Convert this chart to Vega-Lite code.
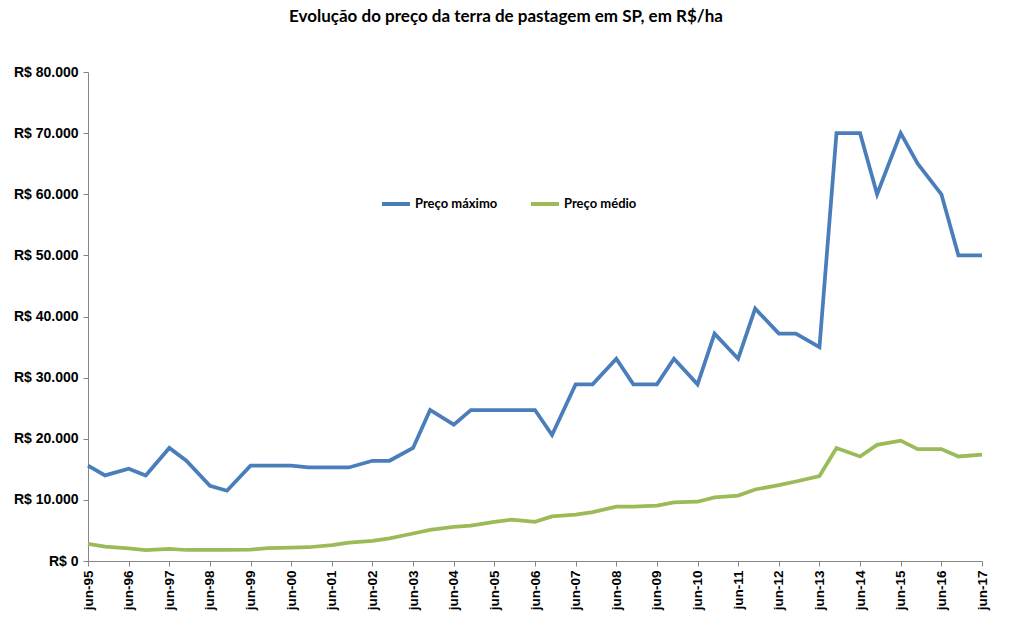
{
  "$schema": "https://vega.github.io/schema/vega-lite/v6.json",
  "width": 894,
  "height": 489,
  "autosize": {"type": "none"},
  "padding": {"left": 88, "top": 72, "right": 31, "bottom": 71},
  "background": "white",
  "title": {
    "text": "Evolução do preço da terra de pastagem em SP, em R$/ha",
    "font": "Lato",
    "fontSize": 17,
    "fontWeight": "bold",
    "color": "#000000",
    "anchor": "middle",
    "dx": -29,
    "offset": 39
  },
  "data": {
    "values": [
      {"d": "1995-06-01", "Preço máximo": 15600, "Preço médio": 2800},
      {"d": "1995-11-01", "Preço máximo": 14000, "Preço médio": 2350},
      {"d": "1996-06-01", "Preço máximo": 15100, "Preço médio": 2050},
      {"d": "1996-11-01", "Preço máximo": 14000, "Preço médio": 1800},
      {"d": "1997-06-01", "Preço máximo": 18500, "Preço médio": 2000},
      {"d": "1997-11-01", "Preço máximo": 16400, "Preço médio": 1800},
      {"d": "1998-06-01", "Preço máximo": 12300, "Preço médio": 1800},
      {"d": "1998-11-01", "Preço máximo": 11500, "Preço médio": 1800},
      {"d": "1999-06-01", "Preço máximo": 15600, "Preço médio": 1850},
      {"d": "1999-11-01", "Preço máximo": 15600, "Preço médio": 2100},
      {"d": "2000-06-01", "Preço máximo": 15600, "Preço médio": 2200},
      {"d": "2000-11-01", "Preço máximo": 15300, "Preço médio": 2250},
      {"d": "2001-06-01", "Preço máximo": 15300, "Preço médio": 2600},
      {"d": "2001-11-01", "Preço máximo": 15300, "Preço médio": 3000},
      {"d": "2002-06-01", "Preço máximo": 16400, "Preço médio": 3300},
      {"d": "2002-11-01", "Preço máximo": 16400, "Preço médio": 3700},
      {"d": "2003-06-01", "Preço máximo": 18500, "Preço médio": 4500},
      {"d": "2003-11-01", "Preço máximo": 24700, "Preço médio": 5100},
      {"d": "2004-06-01", "Preço máximo": 22300, "Preço médio": 5600},
      {"d": "2004-11-01", "Preço máximo": 24700, "Preço médio": 5800},
      {"d": "2005-06-01", "Preço máximo": 24700, "Preço médio": 6400},
      {"d": "2005-11-01", "Preço máximo": 24700, "Preço médio": 6750},
      {"d": "2006-06-01", "Preço máximo": 24700, "Preço médio": 6400},
      {"d": "2006-11-01", "Preço máximo": 20600, "Preço médio": 7300},
      {"d": "2007-06-01", "Preço máximo": 28900, "Preço médio": 7600},
      {"d": "2007-11-01", "Preço máximo": 28900, "Preço médio": 8000},
      {"d": "2008-06-01", "Preço máximo": 33100, "Preço médio": 8900},
      {"d": "2008-11-01", "Preço máximo": 28900, "Preço médio": 8900},
      {"d": "2009-06-01", "Preço máximo": 28900, "Preço médio": 9050},
      {"d": "2009-11-01", "Preço máximo": 33100, "Preço médio": 9600},
      {"d": "2010-06-01", "Preço máximo": 28900, "Preço médio": 9700},
      {"d": "2010-11-01", "Preço máximo": 37200, "Preço médio": 10400},
      {"d": "2011-06-01", "Preço máximo": 33100, "Preço médio": 10700},
      {"d": "2011-11-01", "Preço máximo": 41300, "Preço médio": 11700},
      {"d": "2012-06-01", "Preço máximo": 37200, "Preço médio": 12400},
      {"d": "2012-11-01", "Preço máximo": 37200, "Preço médio": 13000},
      {"d": "2013-06-01", "Preço máximo": 35000, "Preço médio": 13900},
      {"d": "2013-11-01", "Preço máximo": 70000, "Preço médio": 18500},
      {"d": "2014-06-01", "Preço máximo": 70000, "Preço médio": 17100},
      {"d": "2014-11-01", "Preço máximo": 60000, "Preço médio": 19000},
      {"d": "2015-06-01", "Preço máximo": 70000, "Preço médio": 19700},
      {"d": "2015-11-01", "Preço máximo": 65000, "Preço médio": 18300},
      {"d": "2016-06-01", "Preço máximo": 60000, "Preço médio": 18300},
      {"d": "2016-11-01", "Preço máximo": 50000, "Preço médio": 17100},
      {"d": "2017-06-01", "Preço máximo": 50000, "Preço médio": 17400}
    ]
  },
  "transform": [
    {"fold": ["Preço máximo", "Preço médio"], "as": ["serie", "valor"]}
  ],
  "mark": {"type": "line", "strokeWidth": 3.75, "strokeJoin": "miter"},
  "encoding": {
    "x": {
      "field": "d",
      "type": "temporal",
      "scale": {"type": "utc", "domain": [{"year": 1995, "month": 6, "date": 1, "utc": true}, {"year": 2017, "month": 6, "date": 1, "utc": true}], "nice": false},
      "axis": {
        "title": null,
        "grid": false,
        "values": [
          {"year": 1995, "month": 6, "date": 1, "utc": true},
          {"year": 1996, "month": 6, "date": 1, "utc": true},
          {"year": 1997, "month": 6, "date": 1, "utc": true},
          {"year": 1998, "month": 6, "date": 1, "utc": true},
          {"year": 1999, "month": 6, "date": 1, "utc": true},
          {"year": 2000, "month": 6, "date": 1, "utc": true},
          {"year": 2001, "month": 6, "date": 1, "utc": true},
          {"year": 2002, "month": 6, "date": 1, "utc": true},
          {"year": 2003, "month": 6, "date": 1, "utc": true},
          {"year": 2004, "month": 6, "date": 1, "utc": true},
          {"year": 2005, "month": 6, "date": 1, "utc": true},
          {"year": 2006, "month": 6, "date": 1, "utc": true},
          {"year": 2007, "month": 6, "date": 1, "utc": true},
          {"year": 2008, "month": 6, "date": 1, "utc": true},
          {"year": 2009, "month": 6, "date": 1, "utc": true},
          {"year": 2010, "month": 6, "date": 1, "utc": true},
          {"year": 2011, "month": 6, "date": 1, "utc": true},
          {"year": 2012, "month": 6, "date": 1, "utc": true},
          {"year": 2013, "month": 6, "date": 1, "utc": true},
          {"year": 2014, "month": 6, "date": 1, "utc": true},
          {"year": 2015, "month": 6, "date": 1, "utc": true},
          {"year": 2016, "month": 6, "date": 1, "utc": true},
          {"year": 2017, "month": 6, "date": 1, "utc": true}
        ],
        "labelExpr": "'jun-' + utcFormat(datum.value, '%y')",
        "labelAngle": -90,
        "labelAlign": "right",
        "labelBaseline": "middle",
        "labelFont": "Liberation Sans",
        "labelFontSize": 13.5,
        "labelFontWeight": "bold",
        "labelColor": "#000000",
        "labelPadding": 4,
        "labelOverlap": false,
        "labelFlush": false,
        "domainColor": "#868686",
        "tickColor": "#868686",
        "tickSize": 5
      }
    },
    "y": {
      "field": "valor",
      "type": "quantitative",
      "scale": {"domain": [0, 80000], "nice": false, "zero": true},
      "axis": {
        "title": null,
        "grid": false,
        "values": [0, 10000, 20000, 30000, 40000, 50000, 60000, 70000, 80000],
        "labelExpr": "'R$ ' + replace(format(datum.value, ','), ',', '.')",
        "labelFont": "Liberation Sans",
        "labelFontSize": 14,
        "labelFontWeight": "bold",
        "labelColor": "#000000",
        "labelPadding": 5,
        "domainColor": "#868686",
        "tickColor": "#868686",
        "tickSize": 5
      }
    },
    "color": {
      "field": "serie",
      "type": "nominal",
      "scale": {"domain": ["Preço máximo", "Preço médio"], "range": ["#4A7EBB", "#9BBB59"]},
      "legend": {
        "title": null,
        "orient": "none",
        "direction": "horizontal",
        "legendX": 292,
        "legendY": 116,
        "symbolType": "stroke",
        "symbolSize": 784,
        "symbolStrokeWidth": 4,
        "labelFont": "Lato",
        "labelFontSize": 13,
        "labelFontWeight": "bold",
        "labelColor": "#000000",
        "labelOffset": 3,
        "columnPadding": 25
      }
    }
  },
  "config": {"view": {"stroke": null}}
}
